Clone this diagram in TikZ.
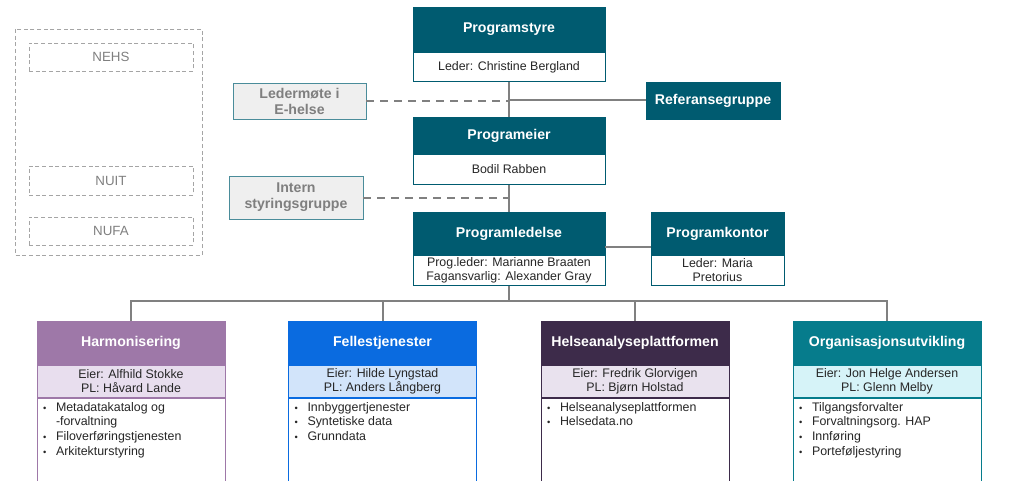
\documentclass[tikz,border=0pt]{standalone}
\usepackage{fontspec}
\setmainfont{Liberation Sans}
\usepackage{xcolor}
\usepackage{tikz}

\definecolor{petrol}{HTML}{005B70}
\definecolor{linegray}{HTML}{808080}
\definecolor{txtgray}{HTML}{7F7F7F}
\definecolor{boxgray}{HTML}{EFEFEF}
\definecolor{frameteal}{HTML}{4A8C9A}
\definecolor{harmhead}{HTML}{9E78A8}
\definecolor{harmsub}{HTML}{E8DEEE}
\definecolor{fellhead}{HTML}{0A6BE0}
\definecolor{fellsub}{HTML}{D2E4FA}
\definecolor{haphead}{HTML}{3D2B4A}
\definecolor{hapsub}{HTML}{E9E2EE}
\definecolor{orghead}{HTML}{067C8C}
\definecolor{orgsub}{HTML}{D6F3F8}

\newcommand{\bl}{\makebox[9.75pt][l]{\scriptsize\textbullet}}
% project card: name, x centre, head colour, sub colour, title, owners, items
\newcommand{\project}[7]{%
  \node[head,fill=#3,draw=#3,minimum width=188*\px,minimum height=44*\px] (#1) at (#2,343) {#5};
  \node[body,fill=#4,draw=#3,minimum width=188*\px,minimum height=32*\px,anchor=north]
    (#1-sub) at (#1.south) {#6};
  \node[draw=#3,fill=white,minimum width=188*\px,minimum height=93*\px,anchor=north]
    (#1-list) at (#1-sub.south) {};
  \node[anchor=north west,align=left,inner sep=0pt,text=black!85,
    font=\fontsize{9.3}{11}\selectfont] (#1-txt) at ([xshift=6*\px,yshift=-4*\px]#1-list.north west) {#7};
}

\begin{document}
\begin{tikzpicture}[x=0.75pt,y=-0.75pt,
  head/.style={fill=petrol,draw=petrol,text=white,inner sep=0pt,
    font=\fontsize{10.6}{12}\selectfont\bfseries},
  body/.style={fill=white,draw=petrol,text=black!85,align=center,inner sep=0pt,
    font=\fontsize{9.3}{10.5}\selectfont},
  side/.style={fill=boxgray,draw=frameteal,text=txtgray,align=center,inner sep=0pt,
    font=\fontsize{10.6}{12}\selectfont\bfseries},
  grp/.style={draw=txtgray!70,dash pattern=on 3pt off 2pt,text=txtgray,inner sep=0pt,
    font=\fontsize{10}{11}\selectfont},
  link/.style={draw=linegray,line width=1.5pt},
  dlink/.style={link,dash pattern=on 6pt off 4.5pt},
]
  \def \px {0.75pt}
  \def \BW {192}
  \useasboundingbox (0,0) rectangle (1024,481);
  \clip (0,0) rectangle (1024,481);

  % forum group on the left
  \draw[grp] (15,29) rectangle (202,255);
  \node[grp,minimum width=164*\px,minimum height=28*\px] (nehs) at (111,57) {NEHS};
  \node[grp,minimum width=164*\px,minimum height=29*\px] (nuit) at (111,180.5) {NUIT};
  \node[grp,minimum width=164*\px,minimum height=28*\px] (nufa) at (111,231) {NUFA};

  % main line
  \node[head,minimum width=\BW*\px,minimum height=45*\px] (ps) at (509,29.5) {Programstyre};
  \node[body,minimum width=\BW*\px,minimum height=29*\px,anchor=north] (psb) at (ps.south)
    {Leder: Christine Bergland};
  \node[head,minimum width=\BW*\px,minimum height=37*\px] (pe) at (509,135.5) {Programeier};
  \node[body,minimum width=\BW*\px,minimum height=30*\px,anchor=north] (peb) at (pe.south)
    {Bodil Rabben};
  \node[head,minimum width=\BW*\px,minimum height=43*\px] (pl) at (509,233.5) {Programledelse};
  \node[body,minimum width=\BW*\px,minimum height=30*\px,anchor=north] (plb) at (pl.south)
    {Prog.leder: Marianne Braaten\\Fagansvarlig: Alexander Gray};

  \node[head,minimum width=133*\px,minimum height=43*\px] (pk) at (717.5,233.5) {Programkontor};
  \node[body,minimum width=133*\px,minimum height=30*\px,anchor=north] (pkb) at (pk.south)
    {Leder: Maria\\Pretorius};
  \node[head,minimum width=134*\px,minimum height=37*\px] (ref) at (713,100.5) {Referansegruppe};

  \node[side,minimum width=133*\px,minimum height=36*\px] (led) at (299.5,101) {Ledermøte i\\E-helse};
  \node[side,minimum width=134*\px,minimum height=43*\px] (intern) at (296,197.5) {Intern\\styringsgruppe};

  \draw[link] (psb.south) -- (pe.north);
  \draw[link] (peb.south) -- (pl.north);
  \draw[dlink] (led.east) -- (led.east -| psb.south);
  \draw[link] (ref.west) -- (ref.west -| psb.south);
  \draw[dlink] (intern.east) -- (intern.east -| peb.south);
  \draw[link] ([yshift=-10pt]pl.east) -- ([yshift=-10pt]pk.west);

  % projects
  \project{h1}{131}{harmhead}{harmsub}{Harmonisering}{Eier: Alfhild Stokke\\PL: Håvard Lande}
    {\bl Metadatakatalog og\\\hspace*{9.75pt}-forvaltning\\\bl Filoverføringstjenesten\\\bl Arkitekturstyring}
  \project{h2}{382.5}{fellhead}{fellsub}{Fellestjenester}{Eier: Hilde Lyngstad\\PL: Anders Långberg}
    {\bl Innbyggertjenester\\\bl Syntetiske data\\\bl Grunndata}
  \project{h3}{635}{haphead}{hapsub}{Helseanalyseplattformen}{Eier: Fredrik Glorvigen\\PL: Bjørn Holstad}
    {\bl Helseanalyseplattformen\\\bl Helsedata.no}
  \project{h4}{887}{orghead}{orgsub}{Organisasjonsutvikling}{Eier: Jon Helge Andersen\\PL: Glenn Melby}
    {\bl Tilgangsforvalter\\\bl Forvaltningsorg. HAP\\\bl Innføring\\\bl Porteføljestyring}

  \coordinate (bus) at (509,301);
  \draw[link] (plb.south) -- (bus);
  \foreach \n in {h1,h2,h3,h4}
    \draw[link] (bus) -| (\n.north);

\end{tikzpicture}
\end{document}
